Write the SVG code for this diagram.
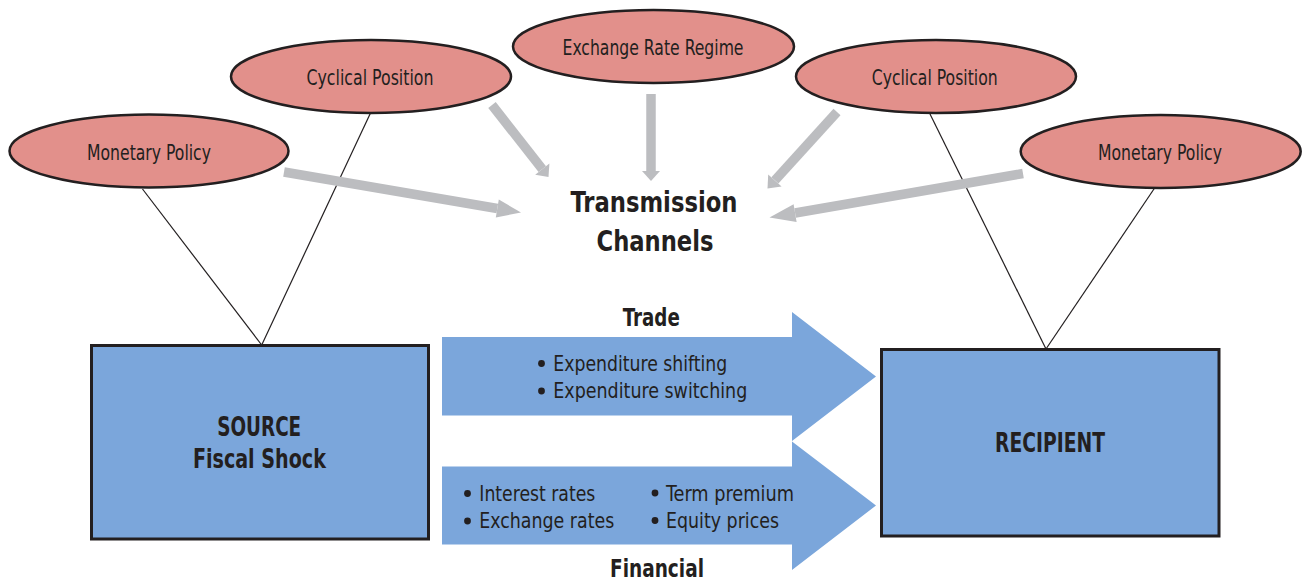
<svg xmlns="http://www.w3.org/2000/svg" width="1302" height="584" viewBox="0 0 1302 584">
<style>
.oval{fill:#E2908B;stroke:#231F20;stroke-width:2.5}
.box{fill:#7BA6DB;stroke:#231F20;stroke-width:3}
.band{fill:#7BA6DB}
.thin{stroke:#231F20;stroke-width:1.2;fill:none}
.gshaft{stroke:#BCBDC0;stroke-width:9.5;fill:none}
.ghead{fill:#BCBDC0}
text{font-family:"Liberation Sans Narrow","DejaVu Sans Condensed","Liberation Sans",sans-serif;fill:#231F20}
.ov{font-size:22px;text-anchor:middle}
.b{font-weight:bold}
.mid{text-anchor:middle}
.li{font-size:21px}
</style>
<rect width="1302" height="584" fill="#FFFFFF"/>
<g id="connectors">
<line class="thin" x1="142.5" y1="189" x2="261.7" y2="345"/>
<line class="thin" x1="370.5" y1="113" x2="261.7" y2="345"/>
<line class="thin" x1="930" y1="114" x2="1046" y2="349"/>
<line class="thin" x1="1154.3" y1="188.5" x2="1046" y2="349"/>
<line class="gshaft" x1="284" y1="172" x2="497.3" y2="208.5"/>
<polygon class="ghead" points="498.8,199.6 521,212.5 495.8,217.4"/>
<line class="gshaft" x1="492" y1="105" x2="542.3" y2="169.1"/>
<polygon class="ghead" points="535.2,174.7 548.5,177 549.4,163.5"/>
<line class="gshaft" x1="651" y1="94" x2="651" y2="171"/>
<polygon class="ghead" points="642,171 651,181 660,171"/>
<line class="gshaft" x1="837" y1="112" x2="774.9" y2="180.4"/>
<polygon class="ghead" points="781.6,186.4 767.5,188.5 768.2,174.4"/>
<line class="gshaft" x1="1023" y1="173.5" x2="795.1" y2="213.05"/>
<polygon class="ghead" points="796.6,221.9 769.5,217.5 793.6,204.2"/>
</g>
<g id="monetary-left">
<ellipse class="oval" cx="149" cy="151" rx="139.5" ry="36.5"/>
<text class="ov" x="149" y="160" textLength="124" lengthAdjust="spacingAndGlyphs">Monetary Policy</text>
</g>
<g id="cyclical-left">
<ellipse class="oval" cx="371" cy="76.5" rx="140" ry="36.5"/>
<text class="ov" x="370" y="85" textLength="127" lengthAdjust="spacingAndGlyphs">Cyclical Position</text>
</g>
<g id="exchange-rate-regime">
<ellipse class="oval" cx="653.5" cy="46.5" rx="140.5" ry="36.5"/>
<text class="ov" x="653" y="55" textLength="181" lengthAdjust="spacingAndGlyphs">Exchange Rate Regime</text>
</g>
<g id="cyclical-right">
<ellipse class="oval" cx="936" cy="76.5" rx="140" ry="36.5"/>
<text class="ov" x="934.7" y="85" textLength="126" lengthAdjust="spacingAndGlyphs">Cyclical Position</text>
</g>
<g id="monetary-right">
<ellipse class="oval" cx="1160.7" cy="151.5" rx="140" ry="36.5"/>
<text class="ov" x="1160" y="160" textLength="124" lengthAdjust="spacingAndGlyphs">Monetary Policy</text>
</g>
<g id="transmission-channels">
<text class="b mid" x="654" y="211.5" font-size="29" textLength="167" lengthAdjust="spacingAndGlyphs">Transmission</text>
<text class="b mid" x="655" y="250.5" font-size="29" textLength="117" lengthAdjust="spacingAndGlyphs">Channels</text>
</g>
<g id="source">
<rect class="box" x="91.5" y="345.5" width="337" height="193.5"/>
<text class="b mid" x="259.2" y="436" font-size="26" textLength="84" lengthAdjust="spacingAndGlyphs">SOURCE</text>
<text class="b mid" x="259.4" y="467.5" font-size="26" textLength="133" lengthAdjust="spacingAndGlyphs">Fiscal Shock</text>
</g>
<g id="trade">
<path class="band" d="M442,337 H792 V312 L876,376.5 L792,441 V415.5 H442 Z"/>
<text class="b mid" x="651.3" y="326" font-size="24" textLength="57" lengthAdjust="spacingAndGlyphs">Trade</text>
<circle cx="541.5" cy="363.5" r="3.4" fill="#231F20"/>
<text class="li" x="553.3" y="370.7" textLength="174" lengthAdjust="spacingAndGlyphs">Expenditure shifting</text>
<circle cx="541.5" cy="391" r="3.4" fill="#231F20"/>
<text class="li" x="553.3" y="398.3" textLength="194" lengthAdjust="spacingAndGlyphs">Expenditure switching</text>
</g>
<g id="financial">
<path class="band" d="M442,466.5 H792 V441.5 L876,505.5 L792,570 V544.5 H442 Z"/>
<text class="b mid" x="657" y="576.7" font-size="24" textLength="94" lengthAdjust="spacingAndGlyphs">Financial</text>
<circle cx="467.5" cy="493.5" r="3.4" fill="#231F20"/>
<text class="li" x="479.3" y="501" textLength="116" lengthAdjust="spacingAndGlyphs">Interest rates</text>
<circle cx="467.5" cy="521" r="3.4" fill="#231F20"/>
<text class="li" x="479.3" y="528.3" textLength="135" lengthAdjust="spacingAndGlyphs">Exchange rates</text>
<circle cx="655" cy="493" r="3.4" fill="#231F20"/>
<text class="li" x="666" y="501" textLength="128" lengthAdjust="spacingAndGlyphs">Term premium</text>
<circle cx="655" cy="520.5" r="3.4" fill="#231F20"/>
<text class="li" x="666" y="528.3" textLength="113" lengthAdjust="spacingAndGlyphs">Equity prices</text>
</g>
<g id="recipient">
<rect class="box" x="881.5" y="349.5" width="337.5" height="186.5"/>
<text class="b mid" x="1050" y="451.7" font-size="26" textLength="110" lengthAdjust="spacingAndGlyphs">RECIPIENT</text>
</g>
</svg>
